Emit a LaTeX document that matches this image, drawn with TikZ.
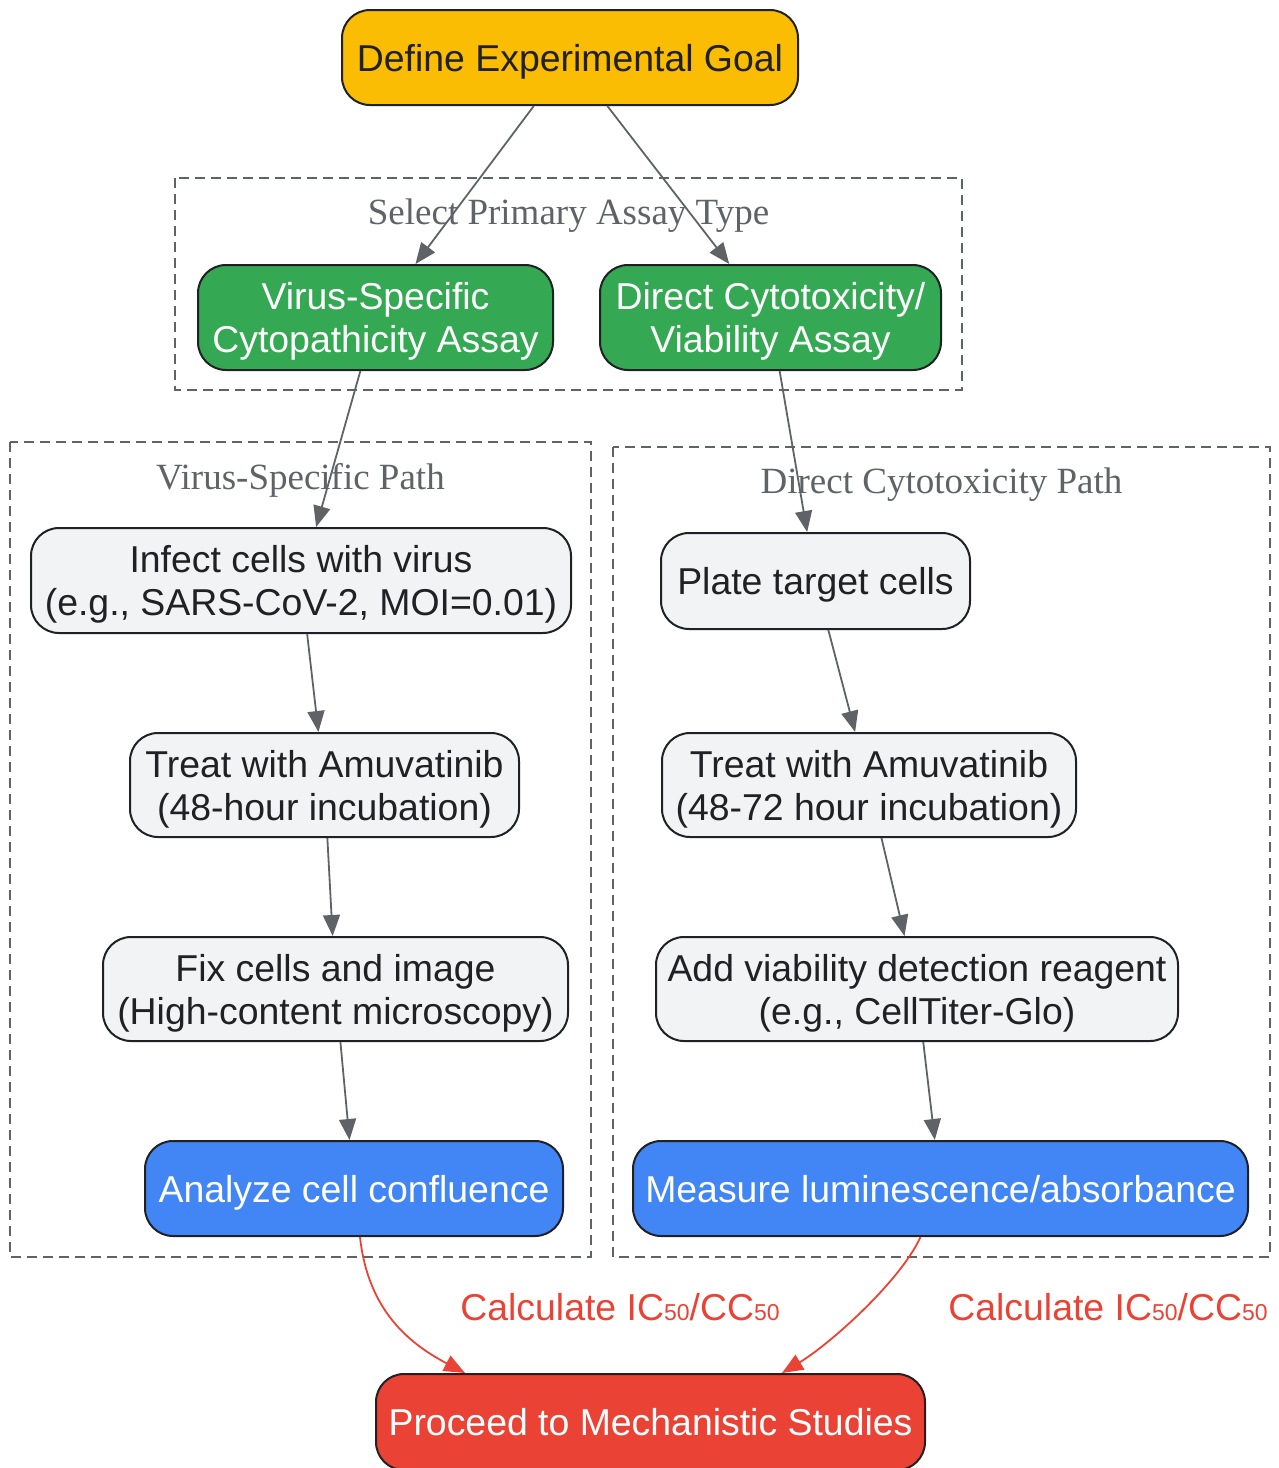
\documentclass[tikz,border=0pt]{standalone}
\usepackage{fontspec}
\setmainfont{Liberation Sans}
\newfontfamily\titlefont{Liberation Serif}
\usepackage{tikz}
\usetikzlibrary{arrows.meta,calc}

\definecolor{goalyellow}{HTML}{FBBC04}
\definecolor{assaygreen}{HTML}{34A853}
\definecolor{stepgray}{HTML}{F1F3F4}
\definecolor{readblue}{HTML}{4285F4}
\definecolor{resultred}{HTML}{EA4335}
\definecolor{borderdark}{HTML}{202124}
\definecolor{edgegray}{HTML}{5F6368}

% small index digits for IC50 / CC50
\newcommand{\fifty}{{\fontsize{11.5}{11.5}\selectfont 50}}

\begin{document}
\begin{tikzpicture}[x=0.5pt, y=-0.5pt, >={Triangle[length=10.5pt,width=8.5pt]},
	box/.style={draw=borderdark, line width=1pt, rounded corners=14pt, inner sep=0pt, text depth=-2pt,
		align=center, font=\fontsize{18.7}{21.5}\selectfont, text=borderdark},
	goalbox/.style={box, fill=goalyellow},
	assaybox/.style={box, fill=assaygreen, text=white},
	stepbox/.style={box, fill=stepgray},
	readbox/.style={box, fill=readblue, text=white},
	finalbox/.style={box, fill=resultred, text=white},
	cluster/.style={draw=edgegray, line width=1.3pt, dash pattern=on 5pt off 3pt},
	clustertitle/.style={text=edgegray, font=\titlefont\fontsize{18.5}{21.5}\selectfont, inner sep=0pt, text depth=0pt},
	flow/.style={->, draw=edgegray, line width=0.9pt},
	result/.style={->, draw=resultred, line width=0.9pt},
	calclabel/.style={text=resultred, font=\fontsize{18.7}{21.5}\selectfont, inner sep=0pt}]

	\useasboundingbox (0,0) rectangle (1279,1468);

	% Macro for drawing a dashed group box with its title.
	% Usage: \drawcluster{name}{x1}{y1}{x2}{y2}{Title}
	\newcommand{\drawcluster}[6]{
		\draw[cluster] (#2,#3) rectangle (#4,#5);
		\node[clustertitle] (#1) at ({(#2+#4)/2},{#3+34}) {#6};
	}

	% Groups
	\drawcluster{selecttitle}{175}{178}{962}{390}{Select Primary Assay Type}
	\drawcluster{virustitle}{10}{442}{591}{1257}{Virus-Specific Path}
	\drawcluster{directtitle}{613}{447}{1270}{1257}{Direct Cytotoxicity Path}

	% Goal and assay choice
	\node[goalbox, minimum width=228pt, minimum height=47.5pt] (goal) at (570,57.5) {Define Experimental Goal};
	\node[assaybox, minimum width=177.5pt, minimum height=52.5pt] (vsa) at (375.5,317.5) {Virus-Specific\\Cytopathicity Assay};
	\node[assaybox, minimum width=170.5pt, minimum height=52.5pt] (dca) at (770.5,317.5) {Direct Cytotoxicity/\\Viability Assay};

	% Virus-specific path
	\node[stepbox, minimum width=270pt, minimum height=52.5pt] (infect) at (301,580.5) {Infect cells with virus\\(e.g., SARS-CoV-2, MOI=0.01)};
	\node[stepbox, minimum width=194.5pt, minimum height=52pt] (treatv) at (324.5,785) {Treat with Amuvatinib\\(48-hour incubation)};
	\node[stepbox, minimum width=232.5pt, minimum height=52pt] (fix) at (335.5,989) {Fix cells and image\\(High-content microscopy)};
	\node[readbox, minimum width=209pt, minimum height=47.5pt] (analyze) at (354,1188.5) {Analyze cell confluence};

	% Direct cytotoxicity path
	\node[stepbox, minimum width=154.5pt, minimum height=48pt] (plate) at (815.5,581) {Plate target cells};
	\node[stepbox, minimum width=207pt, minimum height=52pt] (treatd) at (869,785) {Treat with Amuvatinib\\(48-72 hour incubation)};
	\node[stepbox, minimum width=261pt, minimum height=52pt] (reagent) at (917,989) {Add viability detection reagent\\(e.g., CellTiter-Glo)};
	\node[readbox, minimum width=307.5pt, minimum height=47.5pt] (measure) at (940.5,1188.5) {Measure luminescence/absorbance};

	% Final step
	\node[finalbox, minimum width=274.5pt, minimum height=48pt] (proceed) at (650.5,1422) {Proceed to Mechanistic Studies};

	% Connectors
	\draw[flow] (goal) -- (vsa);
	\draw[flow] (goal) -- (dca);
	\draw[flow] (vsa) -- (infect);
	\draw[flow] (dca) -- (plate);
	\draw[flow] (infect) -- (treatv);
	\draw[flow] (treatv) -- (fix);
	\draw[flow] (fix) -- (analyze);
	\draw[flow] (plate) -- (treatd);
	\draw[flow] (treatd) -- (reagent);
	\draw[flow] (reagent) -- (measure);

	\draw[result] ($(analyze.south)+(6,0)$) .. controls +(8,74) and +(-55,-29) .. ($(proceed.north)+(-185.5,0)$);
	\draw[result] ($(measure.south)+(-20,0)$) .. controls +(-20,44) and +(48,-29) .. ($(proceed.north)+(131.5,0)$);

	\node[calclabel] (calcleft) at (620,1307) {Calculate IC\fifty/CC\fifty};
	\node[calclabel] (calcright) at (1108,1307) {Calculate IC\fifty/CC\fifty};
\end{tikzpicture}
\end{document}
